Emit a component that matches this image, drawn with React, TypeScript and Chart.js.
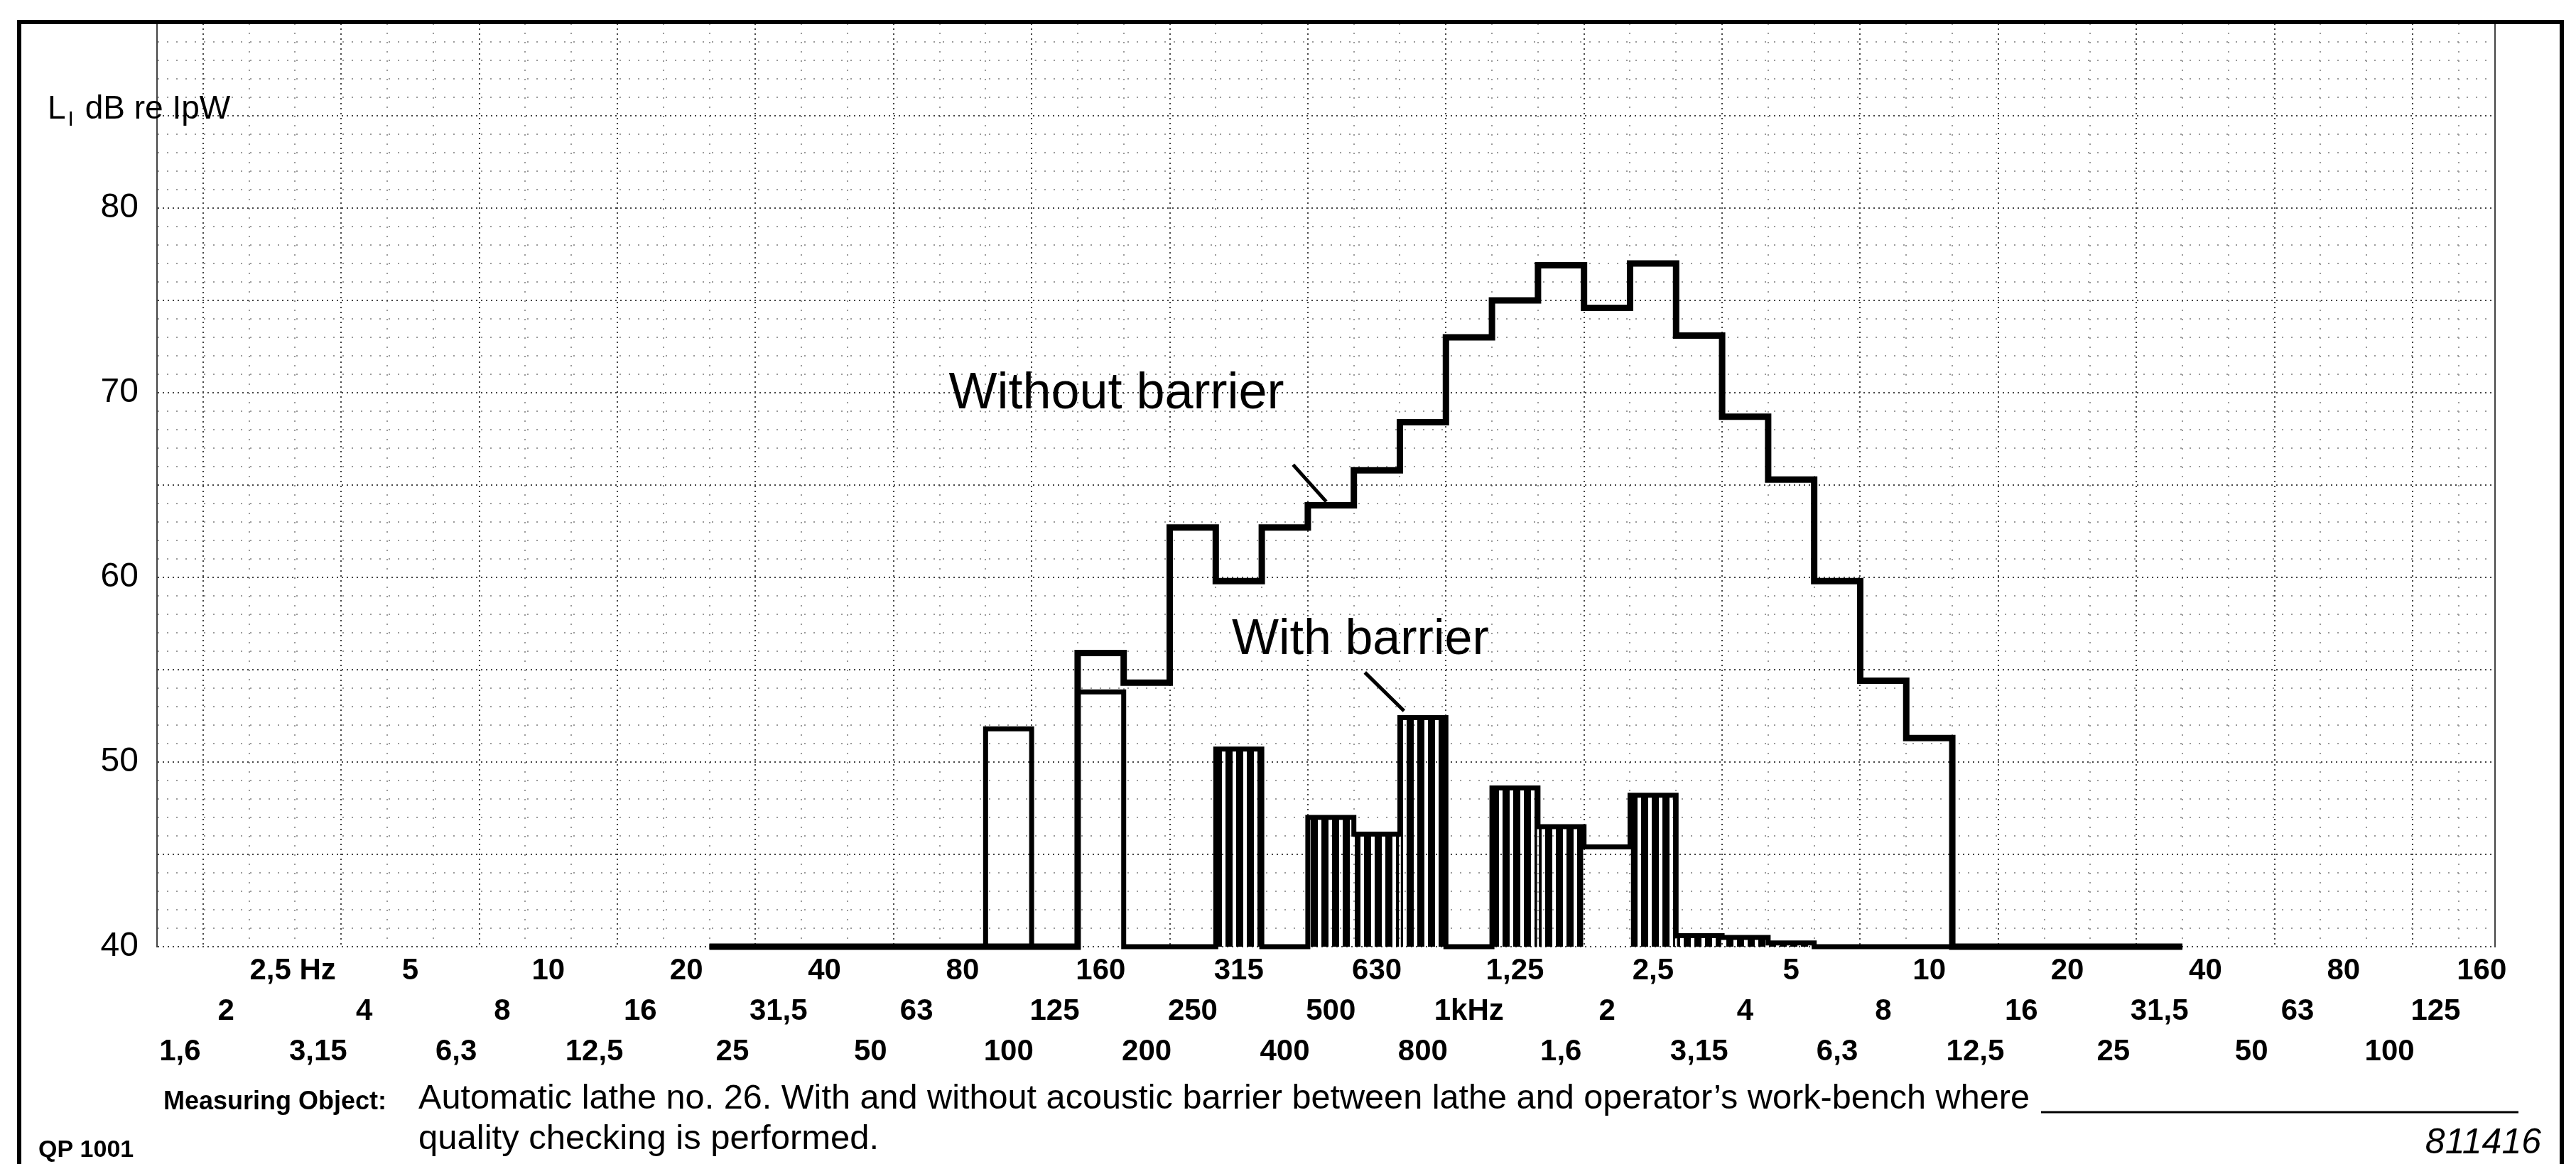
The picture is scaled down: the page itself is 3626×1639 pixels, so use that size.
import React, { useEffect, useRef } from 'react';
import { Chart, registerables } from 'chart.js';

Chart.register(...registerables);

// Third-octave bands 1.6 Hz ... 160 kHz (tick text as printed on the chart paper)
const BAND_TICKS: string[] = [
  '1,6', '2', '2,5 Hz', '3,15', '4', '5', '6,3', '8', '10', '12,5', '16', '20', '25', '31,5', '40', '50', '63',
  '80', '100', '125', '160', '200', '250', '315', '400', '500', '630', '800', '1kHz', '1,25', '1,6', '2', '2,5',
  '3,15', '4', '5', '6,3', '8', '10', '12,5', '16', '20', '25', '31,5', '40', '50', '63', '80', '100', '125', '160',
];

// Sound power level per band, dB re 1 pW
const WITHOUT_BARRIER: (number | null)[] = [
  null, null, null, null, null, null, null, null, null, null, null, null,
  40, 40, 40, 40, 40, 40, 40, 40,
  55.9, 54.3, 62.7, 59.8, 62.7, 63.9, 65.8, 68.4, 73.0, 75.0, 76.9, 74.6, 77.0, 73.1, 68.7, 65.3, 59.8, 54.4, 51.3,
  40, 40, 40, 40, 40,
  null, null, null, null, null, null, null,
];

const WITH_BARRIER: (number | null)[] = [
  null, null, null, null, null, null, null, null, null, null, null, null,
  40, 40, 40, 40, 40, 40, 51.8, 40, 53.8, 40, 40, 50.7, 40, 47.0, 46.1, 52.4, 40, 48.6, 46.5, 45.4, 48.2,
  40.6, 40.5, 40.2, 40, 40, 40, 40, 40, 40, 40, 40,
  null, null, null, null, null, null, null,
];

const Y_TICK_LABELS: number[] = [40, 50, 60, 70, 80];
const Y_MIN = 40;
const Y_MAX = 90;

// bands whose "with barrier" bar is drawn hatched (others are open boxes)
const HATCHED_BANDS = new Set([23, 25, 26, 27, 29, 30, 32, 33, 34, 35]);

const FONT = '"Liberation Sans", Arial, sans-serif';

function stepPoints(vals: (number | null)[]) {
  const pts: { x: number; y: number }[] = [];
  let last = -1;
  vals.forEach((v, i) => {
    if (v != null) {
      pts.push({ x: i - 0.5, y: v });
      last = i;
    }
  });
  if (last >= 0) pts.push({ x: last + 0.5, y: vals[last] as number });
  return pts;
}

const ANNOTATIONS = [
  { text: 'Without barrier', band: 16.7, db: 69.9, size: 72, maxW: 472, from: [24.18, 66.1], to: [24.9, 64.1] },
  { text: 'With barrier', band: 22.85, db: 56.6, size: 70, maxW: 365, from: [25.74, 54.85], to: [26.59, 52.77] },
];

const paperPlugin = {
  id: 'paper',
  beforeDraw(chart: any) {
    const { ctx, width, height } = chart;
    ctx.save();
    ctx.fillStyle = '#fff';
    ctx.fillRect(0, 0, width, height);
    ctx.restore();
  },
  afterDraw(chart: any) {
    const { ctx } = chart;
    const xs = chart.scales.x;
    const ys = chart.scales.y;
    ctx.save();
    // outer frame
    ctx.strokeStyle = '#000';
    ctx.lineWidth = 6;
    ctx.beginPath();
    ctx.moveTo(27, 1639);
    ctx.lineTo(27, 31);
    ctx.lineTo(3606, 31);
    ctx.lineTo(3606, 1639);
    ctx.stroke();

    // axis title  L_I dB re IpW
    ctx.fillStyle = '#000';
    ctx.textAlign = 'left';
    ctx.textBaseline = 'alphabetic';
    ctx.font = `46px ${FONT}`;
    ctx.fillText('L', 67, 167);
    const wL = ctx.measureText('L').width;
    ctx.font = `30px ${FONT}`;
    ctx.fillText('I', 67 + wL + 3, 177);
    const wI = ctx.measureText('I').width;
    ctx.font = `46px ${FONT}`;
    ctx.fillText(' dB re IpW', 67 + wL + wI + 6, 167);

    // annotations with leader lines
    ANNOTATIONS.forEach((a) => {
      ctx.font = `${a.size}px ${FONT}`;
      ctx.textBaseline = 'middle';
      ctx.fillText(a.text, xs.getPixelForValue(a.band), ys.getPixelForValue(a.db), a.maxW);
      ctx.lineWidth = 5;
      ctx.beginPath();
      ctx.moveTo(xs.getPixelForValue(a.from[0]), ys.getPixelForValue(a.from[1]));
      ctx.lineTo(xs.getPixelForValue(a.to[0]), ys.getPixelForValue(a.to[1]));
      ctx.stroke();
    });

    // footer
    ctx.textBaseline = 'middle';
    ctx.font = `bold 36px ${FONT}`;
    ctx.fillText('Measuring Object:', 230, 1552, 321);
    ctx.font = `49px ${FONT}`;
    ctx.fillText(
      'Automatic lathe no. 26. With and without acoustic barrier between lathe and operator\u2019s work-bench where',
      589, 1547, 2268,
    );
    ctx.fillText('quality checking is performed.', 589, 1604);
    ctx.lineWidth = 3;
    ctx.beginPath();
    ctx.moveTo(2873, 1566);
    ctx.lineTo(3545, 1566);
    ctx.stroke();
    ctx.font = `bold 34px ${FONT}`;
    ctx.fillText('QP 1001', 54, 1620, 153);
    ctx.font = `italic 50px ${FONT}`;
    ctx.textAlign = 'right';
    ctx.fillText('811416', 3577, 1610, 172);
    ctx.restore();
  },
};

export default function App() {
  const ref = useRef<HTMLCanvasElement | null>(null);

  useEffect(() => {
    const canvas = ref.current;
    if (!canvas) return;
    const c2d = canvas.getContext('2d') as CanvasRenderingContext2D;
    const pc = document.createElement('canvas');
    pc.width = 15;
    pc.height = 16;
    const pctx = pc.getContext('2d') as CanvasRenderingContext2D;
    pctx.fillStyle = '#000';
    pctx.fillRect(0, 0, 10, 16);
    const hatch = c2d.createPattern(pc, 'repeat');

    const bars = WITH_BARRIER.map((v, i) => (v != null && v > Y_MIN ? { x: i, y: v } : null)).filter(
      (p) => p !== null,
    ) as { x: number; y: number }[];

    const isMajorX = (c: any) => c.index % 3 === 1;
    const isMajorY = (c: any) => c.tick && c.tick.value % 5 === 0;

    const chart = new Chart(canvas, {
      type: 'bar',
      data: {
        datasets: [
          {
            type: 'line',
            label: 'Without barrier',
            data: stepPoints(WITHOUT_BARRIER),
            borderColor: '#000',
            borderWidth: 9,
            pointRadius: 0,
            stepped: true,
            fill: false,
            clip: false,
            order: 1,
          } as any,
          {
            type: 'line',
            label: 'With barrier (outline)',
            data: stepPoints(WITH_BARRIER),
            borderColor: '#000',
            borderWidth: 7,
            pointRadius: 0,
            stepped: true,
            fill: false,
            clip: false,
            order: 2,
          } as any,
          {
            type: 'bar',
            label: 'With barrier',
            data: bars,
            backgroundColor: (c: any) => (c.raw && HATCHED_BANDS.has(c.raw.x) ? hatch : 'rgba(0,0,0,0)'),
            borderWidth: 0,
            barPercentage: 0.96,
            categoryPercentage: 1,
            order: 3,
          } as any,
        ],
      },
      options: {
        responsive: false,
        devicePixelRatio: 1,
        animation: false,
        events: [],
        layout: { padding: { left: 21, right: 114, top: 33, bottom: 6 } },
        plugins: { legend: { display: false }, tooltip: { enabled: false }, title: { display: false } },
        scales: {
          x: {
            type: 'linear',
            min: -0.5,
            max: 50.29,
            offset: false,
            bounds: 'data',
            afterBuildTicks: (s: any) => {
              s.ticks = BAND_TICKS.map((_, i) => ({ value: i }));
            },
            afterFit: (s: any) => {
              s.height = 300;
              s.paddingLeft = 0;
              s.paddingRight = 0;
            },
            grid: {
              color: (c: any) => (isMajorX(c) ? '#444' : '#9a9a9a'),
              lineWidth: 2,
              drawTicks: false,
            },
            border: { display: false, dash: (c: any) => (isMajorX(c) ? [2, 5] : [2, 11]) },
            ticks: {
              autoSkip: false,
              maxRotation: 0,
              minRotation: 0,
              padding: 6,
              color: '#000',
              font: { family: FONT, size: 42, weight: 'bold', lineHeight: 1.357 },
              callback: (v: any) => {
                const i = Math.round(Number(v));
                let t = BAND_TICKS[i] ?? '';
                if (i === 2) t = '     ' + t;
                const row = 2 - (i % 3);
                return [...Array(row).fill(''), t];
              },
            },
          } as any,
          y: {
            type: 'linear',
            position: 'left',
            min: Y_MIN,
            max: Y_MAX,
            afterBuildTicks: (s: any) => {
              const t = [];
              for (let v = Y_MIN; v <= Y_MAX; v += 1) t.push({ value: v });
              s.ticks = t;
            },
            afterFit: (s: any) => {
              s.width = 200;
              s.paddingTop = 0;
              s.paddingBottom = 0;
            },
            grid: {
              color: (c: any) => (isMajorY(c) ? '#444' : '#9a9a9a'),
              lineWidth: 2,
              drawTicks: false,
            },
            border: {
              display: true,
              color: '#444',
              width: 2,
              dash: (c: any) => (c.tick && !isMajorY(c) ? [2, 11] : [2, 5]),
            },
            ticks: {
              autoSkip: false,
              padding: 26,
              color: '#000',
              font: { family: FONT, size: 48 },
              callback: (v: any) => (Y_TICK_LABELS.includes(Number(v)) ? String(v) : ''),
            },
          } as any,
          yR: {
            type: 'linear',
            position: 'right',
            min: Y_MIN,
            max: Y_MAX,
            ticks: { display: false },
            grid: { display: false, drawTicks: false },
            border: { display: true, color: '#444', width: 2, dash: [2, 5] },
            afterFit: (s: any) => {
              s.width = 0;
              s.paddingTop = 0;
              s.paddingBottom = 0;
            },
          } as any,
        },
      } as any,
      plugins: [paperPlugin as any],
    });
    return () => chart.destroy();
  }, []);

  return (
    <div style={{ position: 'fixed', left: 0, top: 0, width: 3626, height: 1639, background: '#fff' }}>
      <canvas ref={ref} width={3626} height={1639} style={{ display: 'block' }} />
    </div>
  );
}
